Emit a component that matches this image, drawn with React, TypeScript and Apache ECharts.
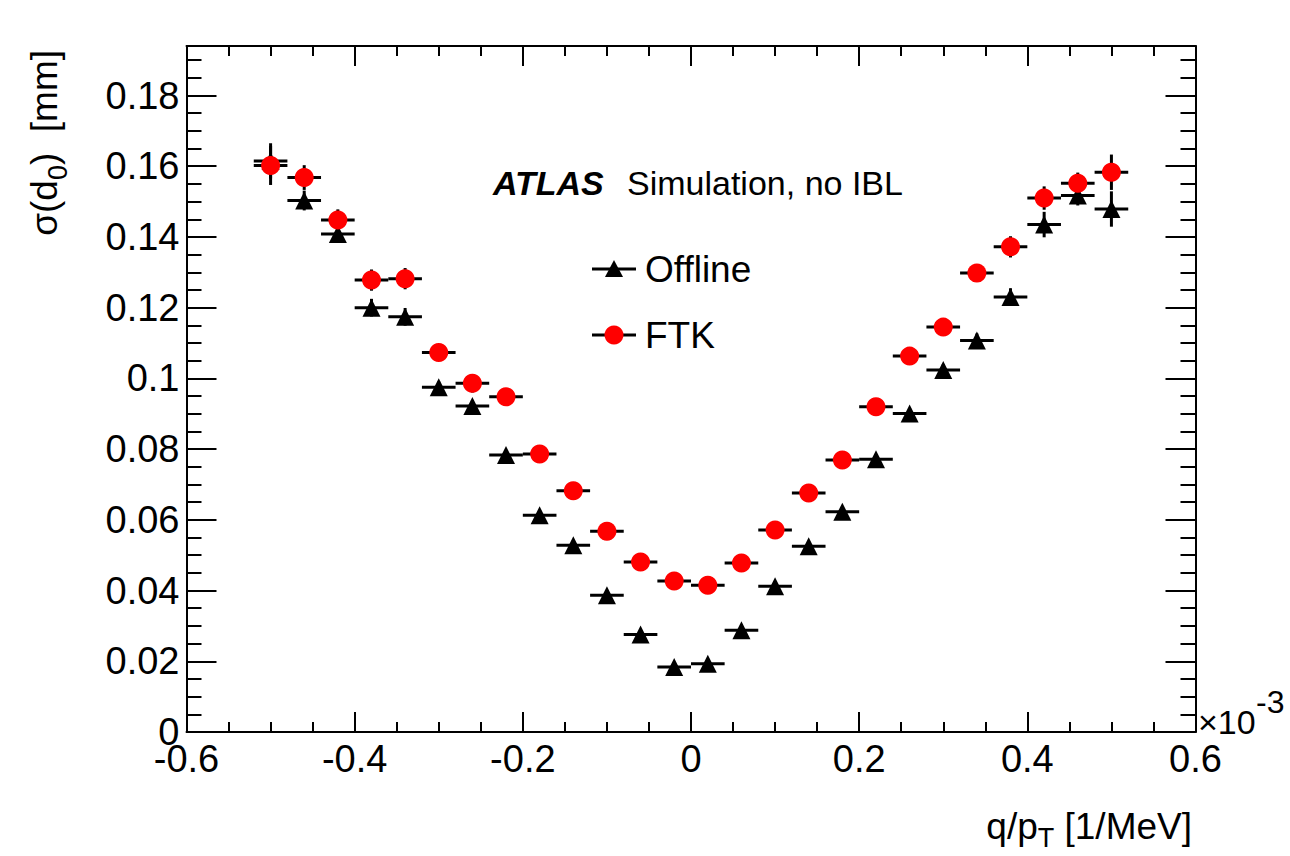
import React, { useEffect, useRef } from "react";
import * as echarts from "echarts";

// Bin centres of q/pT (units of 1e-3 1/MeV)
const binCenters = [
  -0.5, -0.46, -0.42, -0.38, -0.34, -0.3, -0.26, -0.22, -0.18, -0.14, -0.1, -0.06, -0.02,
  0.02, 0.06, 0.1, 0.14, 0.18, 0.22, 0.26, 0.3, 0.34, 0.38, 0.42, 0.46, 0.5,
];
const binHalfWidth = [
  0.02, 0.02, 0.02, 0.02, 0.02, 0.02, 0.02, 0.02, 0.02, 0.02, 0.02, 0.02, 0.02,
  0.02, 0.02, 0.02, 0.02, 0.02, 0.02, 0.02, 0.02, 0.02, 0.02, 0.02, 0.02, 0.02,
];
const offlineValues = [
  0.1615, 0.1503, 0.1408, 0.12, 0.1174, 0.0975, 0.0922, 0.0783, 0.0613, 0.0528, 0.0387, 0.0276, 0.0184,
  0.0193, 0.0288, 0.0412, 0.0525, 0.0623, 0.0771, 0.0901, 0.1024, 0.1107, 0.123, 0.1435, 0.1517, 0.1479,
];
const offlineErrors = [
  0.005, 0.0028, 0.0022, 0.0025, 0.0025, 0.0016, 0.0016, 0.0014, 0.0014, 0.0014, 0.0014, 0.0014, 0.0014,
  0.0014, 0.0016, 0.0014, 0.0014, 0.0014, 0.0014, 0.0015, 0.0016, 0.002, 0.0025, 0.0036, 0.0028, 0.005,
];
const ftkValues = [
  0.1602, 0.1568, 0.1448, 0.1278, 0.1282, 0.1073, 0.0986, 0.0948, 0.0786, 0.0682, 0.0568, 0.0481, 0.0427,
  0.0415, 0.0478, 0.0571, 0.0676, 0.0769, 0.092, 0.1063, 0.1145, 0.1298, 0.1372, 0.151, 0.1552, 0.1583,
];
const ftkErrors = [
  0.0055, 0.0035, 0.003, 0.003, 0.003, 0.0018, 0.0026, 0.0018, 0.0018, 0.0018, 0.0018, 0.0018, 0.0018,
  0.0018, 0.0018, 0.0018, 0.0018, 0.0018, 0.0018, 0.0022, 0.0025, 0.0025, 0.003, 0.0033, 0.003, 0.005,
];

const xTicks = { min: -0.6, max: 0.6, major: 0.2 };
const yTicks = { min: 0, max: 0.194, major: 0.02, minor: 0.005 };

const FONT = "'Liberation Sans', Arial, Helvetica, sans-serif";
const MAIN_SIZE = 37;
const SUB_SIZE = 27;

function measure(text: string, size: number): number {
  const c = document.createElement("canvas").getContext("2d");
  if (!c) return text.length * size * 0.55;
  c.font = `${size}px ${FONT}`;
  return c.measureText(text).width;
}

export default function App() {
  const ref = useRef<HTMLDivElement>(null);

  useEffect(() => {
    document.body.style.margin = "0";
    const chart = echarts.init(ref.current!, null, { renderer: "svg" });

    const offlineData = binCenters.map((x, i) => [x, offlineValues[i], binHalfWidth[i], offlineErrors[i]]);
    const ftkData = binCenters.map((x, i) => [x, ftkValues[i], binHalfWidth[i], ftkErrors[i]]);

    const renderErr = (params: any, api: any) => {
      const x = api.value(0);
      const y = api.value(1);
      const ex = api.value(2);
      const ey = api.value(3);
      const l = api.coord([x - ex, y]);
      const r = api.coord([x + ex, y]);
      const b = api.coord([x, y - ey]);
      const t = api.coord([x, y + ey]);
      return {
        type: "group",
        children: [
          { type: "line", shape: { x1: l[0], y1: l[1], x2: r[0], y2: r[1] }, style: { stroke: "#000", lineWidth: 3 } },
          { type: "line", shape: { x1: b[0], y1: b[1], x2: t[0], y2: t[1] }, style: { stroke: "#000", lineWidth: 3 } },
        ],
      };
    };

    // Axis titles with subscripts, composed from pieces
    const makeTitle = (parts: { t: string; sub?: boolean }[], subShift: number) => {
      const widths = parts.map((p) => measure(p.t, p.sub ? SUB_SIZE : MAIN_SIZE));
      const total = widths.reduce((a, b) => a + b, 0);
      let cx = -total;
      return parts.map((p, i) => {
        const el = {
          type: "text", x: cx, y: p.sub ? subShift : 0,
          style: {
            text: p.t, fontFamily: FONT, fontSize: p.sub ? SUB_SIZE : MAIN_SIZE, fill: "#000",
            align: "left", verticalAlign: "middle",
          },
        };
        cx += widths[i];
        return el;
      });
    };

    const xTitle = {
      type: "group", x: 1192, y: 826,
      children: makeTitle([{ t: "q/p" }, { t: "T", sub: true }, { t: " [1/MeV]" }], 12),
    };
    const yTitle = {
      type: "group", x: 44, y: 50, rotation: Math.PI / 2,
      children: makeTitle([{ t: "\u03c3(d" }, { t: "0", sub: true }, { t: ")  [mm]" }], 14),
    };

    const axisLine = { show: true, onZero: false, lineStyle: { color: "#000", width: 2 } };
    const noLine = { show: false, onZero: false };
    const labelStyle = { color: "#000", fontFamily: FONT, fontSize: 38 };

    const option: any = {
      animation: false,
      backgroundColor: "#fff",
      grid: { left: 186.5, right: 94.5, top: 46, bottom: 124, containLabel: false },
      xAxis: [
        {
          type: "value", position: "bottom", min: xTicks.min, max: xTicks.max, interval: xTicks.major,
          axisLine,
          axisTick: { show: true, inside: true, length: 20, lineStyle: { color: "#000", width: 2 } },
          minorTick: { show: true, splitNumber: 4, length: 10, lineStyle: { color: "#000", width: 2 } },
          axisLabel: { ...labelStyle, margin: 8, showMinLabel: true, showMaxLabel: true },
          splitLine: { show: false },
        },
        {
          type: "value", position: "top", min: xTicks.min, max: xTicks.max, interval: xTicks.major,
          axisLine,
          axisTick: { show: true, inside: true, length: 20, lineStyle: { color: "#000", width: 2 } },
          minorTick: { show: true, splitNumber: 4, length: 10, lineStyle: { color: "#000", width: 2 } },
          axisLabel: { show: false },
          splitLine: { show: false },
        },
      ],
      yAxis: [
        {
          type: "value", position: "left", min: yTicks.min, max: yTicks.max, interval: yTicks.major,
          axisLine,
          axisTick: { show: true, inside: true, length: 30, lineStyle: { color: "#000", width: 2 } },
          axisLabel: { ...labelStyle, margin: 7, showMaxLabel: false, showMinLabel: true },
          splitLine: { show: false },
        },
        {
          type: "value", position: "left", min: yTicks.min, max: yTicks.max, interval: yTicks.minor,
          axisLine: noLine,
          axisTick: { show: true, inside: true, length: 15, lineStyle: { color: "#000", width: 2 } },
          axisLabel: { show: false },
          splitLine: { show: false },
        },
        {
          type: "value", position: "right", min: yTicks.min, max: yTicks.max, interval: yTicks.major,
          axisLine,
          axisTick: { show: true, inside: true, length: 30, lineStyle: { color: "#000", width: 2 } },
          axisLabel: { show: false },
          splitLine: { show: false },
        },
        {
          type: "value", position: "right", min: yTicks.min, max: yTicks.max, interval: yTicks.minor,
          axisLine: noLine,
          axisTick: { show: true, inside: true, length: 15, lineStyle: { color: "#000", width: 2 } },
          axisLabel: { show: false },
          splitLine: { show: false },
        },
      ],
      series: [
        {
          name: "Offline errors", type: "custom", xAxisIndex: 0, yAxisIndex: 0,
          renderItem: renderErr, data: offlineData, encode: { x: 0, y: 1 }, z: 2, silent: true,
        },
        {
          name: "Offline", type: "scatter", xAxisIndex: 0, yAxisIndex: 0,
          data: offlineData.map((d) => [d[0], d[1]]),
          symbol: "triangle", symbolSize: 18, itemStyle: { color: "#000", opacity: 1 }, z: 3, silent: true,
        },
        {
          name: "FTK errors", type: "custom", xAxisIndex: 0, yAxisIndex: 0,
          renderItem: renderErr, data: ftkData, encode: { x: 0, y: 1 }, z: 4, silent: true,
        },
        {
          name: "FTK", type: "scatter", xAxisIndex: 0, yAxisIndex: 0,
          data: ftkData.map((d) => [d[0], d[1]]),
          symbol: "circle", symbolSize: 19, itemStyle: { color: "#ff0000", opacity: 1 }, z: 5, silent: true,
        },
      ],
      graphic: [
        // ATLAS label
        {
          type: "text", left: 493, top: 166,
          style: { text: "ATLAS", fontFamily: FONT, fontSize: 34, fontWeight: "bold", fontStyle: "italic", fill: "#000" },
        },
        {
          type: "text", left: 627, top: 166,
          style: { text: "Simulation, no IBL", fontFamily: FONT, fontSize: 34, fill: "#000" },
        },
        // Legend: Offline
        { type: "line", shape: { x1: 592, y1: 269, x2: 636, y2: 269 }, style: { stroke: "#000", lineWidth: 3 } },
        { type: "polygon", shape: { points: [[614, 260], [623, 277], [605, 277]] }, style: { fill: "#000" } },
        {
          type: "text", x: 645, y: 269,
          style: { text: "Offline", fontFamily: FONT, fontSize: 37, fill: "#000", verticalAlign: "middle", align: "left" },
        },
        // Legend: FTK
        { type: "line", shape: { x1: 592, y1: 335, x2: 636, y2: 335 }, style: { stroke: "#000", lineWidth: 3 } },
        { type: "circle", shape: { cx: 614, cy: 335, r: 9.5 }, style: { fill: "#ff0000" } },
        {
          type: "text", x: 645, y: 335,
          style: { text: "FTK", fontFamily: FONT, fontSize: 37, fill: "#000", verticalAlign: "middle", align: "left" },
        },
        // x10^-3
        {
          type: "text", x: 1198, y: 722,
          style: { text: "\u00d710", fontFamily: FONT, fontSize: 34, fill: "#000", verticalAlign: "middle", align: "left" },
        },
        {
          type: "text", x: 1256, y: 702,
          style: { text: "-3", fontFamily: FONT, fontSize: 32, fill: "#000", verticalAlign: "middle", align: "left" },
        },
        xTitle,
        yTitle,
      ],
    };

    chart.setOption(option);
    return () => chart.dispose();
  }, []);

  return <div ref={ref} style={{ position: "fixed", left: 0, top: 0, width: 1290, height: 856 }} />;
}
